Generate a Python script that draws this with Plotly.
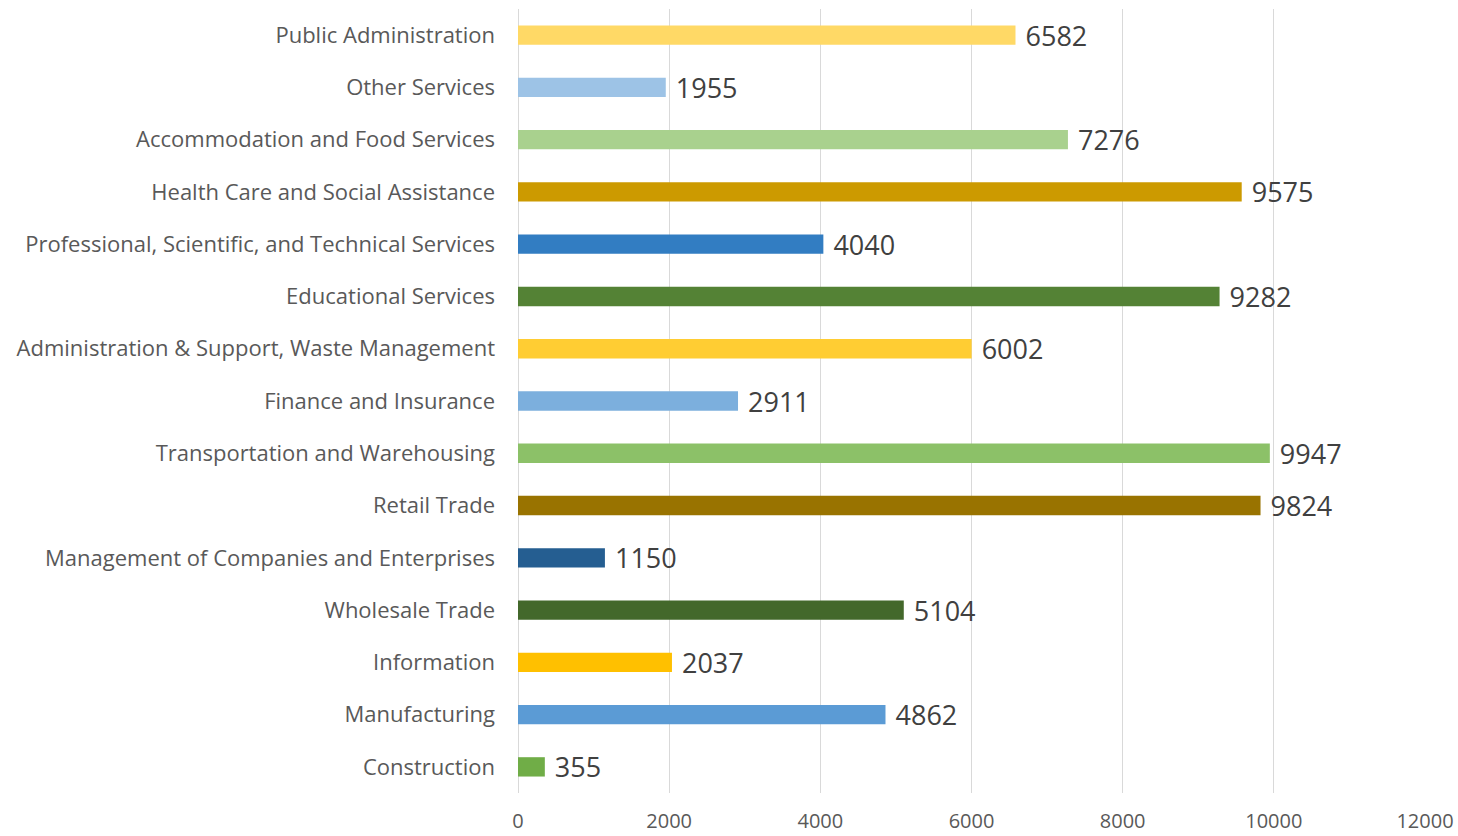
import plotly.graph_objects as go

categories = [
    "Construction", "Manufacturing", "Information", "Wholesale Trade",
    "Management of Companies and Enterprises", "Retail Trade",
    "Transportation and Warehousing", "Finance and Insurance",
    "Administration & Support, Waste Management", "Educational Services",
    "Professional, Scientific, and Technical Services",
    "Health Care and Social Assistance", "Accommodation and Food Services",
    "Other Services", "Public Administration",
]
values = [355, 4862, 2037, 5104, 1150, 9824, 9947, 2911, 6002, 9282, 4040, 9575, 7276, 1955, 6582]
colors = [
    "#70AD47", "#5B9BD5", "#FFC000", "#43682B", "#255E91", "#997300",
    "#8CC168", "#7CAFDD", "#FFCD33", "#548235", "#327DC2", "#CC9A00",
    "#A9D18E", "#9DC3E6", "#FFD966",
]
x_ticks = [0, 2000, 4000, 6000, 8000, 10000, 12000]
x_tick_labels = ["0", "2000", "4000", "6000", "8000", "10000", "12000"]

fig = go.Figure(go.Bar(
    y=categories, x=values, orientation="h",
    marker=dict(color=colors, line=dict(width=0)),
    width=0.37,
    text=[" " + str(v) for v in values], textposition="outside",
    textfont=dict(family="Open Sans", size=27, color="#404040"),
    constraintext="none",
    cliponaxis=False,
))

fig.update_layout(
    width=1458, height=836,
    margin=dict(l=518, r=33, t=9, b=43, autoexpand=False),
    plot_bgcolor="white", paper_bgcolor="white",
    showlegend=False,
    font=dict(family="Open Sans", color="#595959"),
    xaxis=dict(range=[0, 12000], tickvals=x_ticks, ticktext=x_tick_labels,
               showgrid=True, automargin=False,
               gridcolor="#D9D9D9", gridwidth=1, zeroline=True,
               zerolinecolor="#D9D9D9", zerolinewidth=1,
               tickfont=dict(size=20, color="#595959"), ticks="",
               ticklabelstandoff=14, showline=False),
    yaxis=dict(categoryorder="array", categoryarray=categories,
               tickfont=dict(size=22, color="#595959"), ticks="",
               automargin=False,
               ticklabelstandoff=22, showgrid=False, showline=False),
)

fig.write_html(
    "out.html",
    config={"displayModeBar": False},
    post_script="document.body.style.margin='0px';document.body.style.overflow='hidden';",
)
